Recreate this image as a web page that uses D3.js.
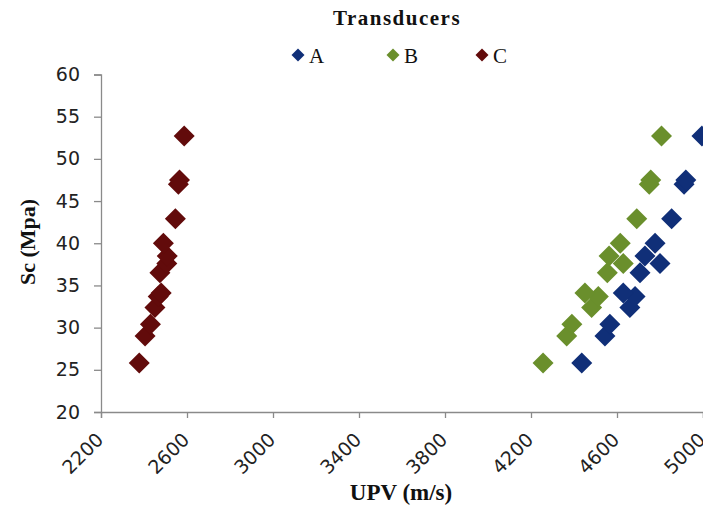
<!DOCTYPE html>
<html>
<head>
<meta charset="utf-8">
<script src="https://cdn.jsdelivr.net/npm/d3@7/dist/d3.min.js"></script>
<style>
  html, body { margin: 0; padding: 0; background: #fff; }
  svg { display: block; }
  .tick text { font-family: "DejaVu Sans", sans-serif; font-size: 19px; fill: #222; }
  .title { font-family: "Liberation Serif", "Times New Roman", serif; font-weight: bold; fill: #111; }
</style>
</head>
<body>
<svg id="chart" width="703" height="510"></svg>
<script>
// Compressive strength (Sc, MPa) of each specimen
const strength = [25.8, 29.0, 30.4, 32.4, 33.7, 34.1, 36.5, 37.6, 38.5, 40.0, 42.9, 47.0, 47.5, 52.7];
// Pulse velocity (m/s) measured with each transducer, same specimen order
const upvA = [4436, 4544, 4567, 4660, 4684, 4629, 4707, 4800, 4730, 4777, 4854, 4912, 4920, 4995];
const upvB = [4256, 4366, 4390, 4482, 4513, 4451, 4555, 4629, 4563, 4615, 4692, 4750, 4757, 4807];
const upvC = [2378, 2405, 2430, 2451, 2466, 2480, 2474, 2506, 2508, 2490, 2546, 2560, 2565, 2587];

const seriesNames = ["A", "B", "C"];
const seriesColors = ["#102f78", "#6a8f2c", "#620b0b"];
const xTicks = [2200, 2600, 3000, 3400, 3800, 4200, 4600, 5000];
const yTicks = [20, 25, 30, 35, 40, 45, 50, 55, 60];

const svg = d3.select("#chart");
const plotLeft = 101, plotRight = 703, plotTop = 74.5, plotBottom = 412;

const x = d3.scaleLinear().domain([2200, 5000]).range([plotLeft, plotRight]);
const y = d3.scaleLinear().domain([20, 60]).range([plotBottom, plotTop]);

// Y axis
const yAxis = svg.append("g")
  .attr("transform", `translate(${plotLeft},0)`)
  .call(d3.axisLeft(y).tickValues(yTicks).tickSize(7).tickPadding(14).tickFormat(d3.format("d")));
yAxis.select(".domain").attr("stroke", "#8a8a8a").attr("stroke-width", 1.3);
yAxis.selectAll(".tick line").attr("stroke", "#8a8a8a").attr("stroke-width", 1.3);

// X axis with slanted labels (the last one runs past the right edge)
const xAxis = svg.append("g")
  .attr("transform", `translate(0,${plotBottom})`)
  .call(d3.axisBottom(x).tickValues(xTicks).tickSize(6).tickFormat(d3.format("d")));
xAxis.select(".domain").attr("stroke", "#8a8a8a").attr("stroke-width", 1.3);
xAxis.selectAll(".tick line").attr("stroke", "#8a8a8a").attr("stroke-width", 1.3);
xAxis.selectAll(".tick text")
  .attr("text-anchor", "end")
  .attr("dy", null)
  .attr("y", 0)
  .attr("transform", "translate(3,29) rotate(-45)");

// Series data
const seriesData = [upvA, upvB, upvC].map((vals, i) =>
  vals.map((v, j) => ({ x: v, y: strength[j], s: i })));

function diamondPath(half) {
  return `M0,${-half}L${half},0L0,${half}L${-half},0Z`;
}

const plot = svg.append("g");
seriesData.forEach((pts, i) => {
  plot.append("g").selectAll("path")
    .data(pts)
    .join("path")
    .attr("d", diamondPath(10.5))
    .attr("transform", d => `translate(${x(d.x)},${y(d.y)})`)
    .attr("fill", seriesColors[i]);
});

// Titles
svg.append("text").attr("class", "title")
  .attr("x", 397).attr("y", 25)
  .attr("text-anchor", "middle")
  .attr("font-size", 21).attr("letter-spacing", 1.5)
  .text("Transducers");

svg.append("text").attr("class", "title")
  .attr("x", 401).attr("y", 500)
  .attr("text-anchor", "middle")
  .attr("font-size", 23)
  .text("UPV (m/s)");

svg.append("text").attr("class", "title")
  .attr("transform", "translate(35,242) rotate(-90)")
  .attr("text-anchor", "middle")
  .attr("font-size", 22)
  .text("Sc (Mpa)");

// Legend
const legendX = [298, 393, 482];
const legend = svg.append("g");
seriesNames.forEach((name, i) => {
  const g = legend.append("g").attr("transform", `translate(${legendX[i]},55)`);
  g.append("path").attr("d", diamondPath(6.5)).attr("fill", seriesColors[i]);
  g.append("text")
    .attr("x", 11).attr("y", 7.5)
    .attr("font-family", "Liberation Serif, Times New Roman, serif")
    .attr("font-size", 21).attr("fill", "#111")
    .text(name);
});
</script>
</body>
</html>
